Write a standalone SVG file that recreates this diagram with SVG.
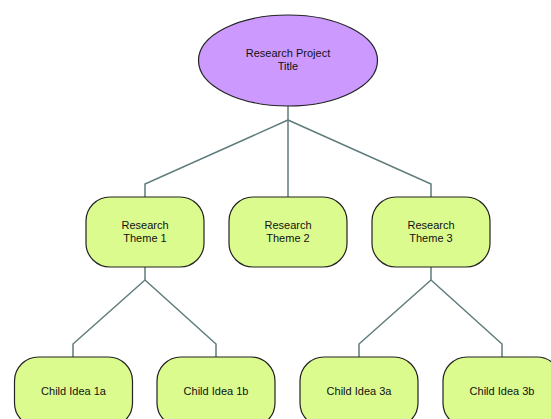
<svg xmlns="http://www.w3.org/2000/svg" width="551" height="419" viewBox="0 0 551 419">
<style>
.c{fill:none;stroke:#5f7c7c;stroke-width:1.5}
.box{fill:#dcfb8f;stroke:#222;stroke-width:1.2}
.ell{fill:#cc99ff;stroke:#222;stroke-width:1.2}
text{font-family:"Liberation Sans",Arial,sans-serif;font-size:11px;fill:#111;text-anchor:middle}
</style>
<rect width="551" height="419" fill="#fff"/>
<g id="connectors">
<polyline class="c" points="288,106 288,120"/>
<polyline class="c" points="288,120 145,184 145,197"/>
<polyline class="c" points="288,120 288,197"/>
<polyline class="c" points="288,120 431,184 431,197"/>
<polyline class="c" points="145,267 145,280"/>
<polyline class="c" points="145,280 73,344 73,357"/>
<polyline class="c" points="145,280 216,344 216,357"/>
<polyline class="c" points="431,267 431,280"/>
<polyline class="c" points="431,280 359,344 359,357"/>
<polyline class="c" points="431,280 502,344 502,357"/>
</g>
<g id="root">
<ellipse class="ell" cx="288" cy="60.5" rx="89.5" ry="45.5"/>
<text x="288" y="57">Research Project</text>
<text x="288" y="70">Title</text>
</g>
<g id="theme1">
<rect class="box" x="86" y="197" width="118" height="70" rx="24" ry="24"/>
<text x="145" y="229">Research</text>
<text x="145" y="242">Theme 1</text>
</g>
<g id="theme2">
<rect class="box" x="229" y="197" width="118" height="70" rx="24" ry="24"/>
<text x="288" y="229">Research</text>
<text x="288" y="242">Theme 2</text>
</g>
<g id="theme3">
<rect class="box" x="372" y="197" width="118" height="70" rx="24" ry="24"/>
<text x="431" y="229">Research</text>
<text x="431" y="242">Theme 3</text>
</g>
<g id="child1a">
<rect class="box" x="14.5" y="357" width="118" height="70" rx="24" ry="24"/>
<text x="73.5" y="395">Child Idea 1a</text>
</g>
<g id="child1b">
<rect class="box" x="157" y="357" width="118" height="70" rx="24" ry="24"/>
<text x="216" y="395">Child Idea 1b</text>
</g>
<g id="child3a">
<rect class="box" x="300" y="357" width="118" height="70" rx="24" ry="24"/>
<text x="359" y="395">Child Idea 3a</text>
</g>
<g id="child3b">
<rect class="box" x="443" y="357" width="118" height="70" rx="24" ry="24"/>
<text x="502" y="395">Child Idea 3b</text>
</g>
</svg>
